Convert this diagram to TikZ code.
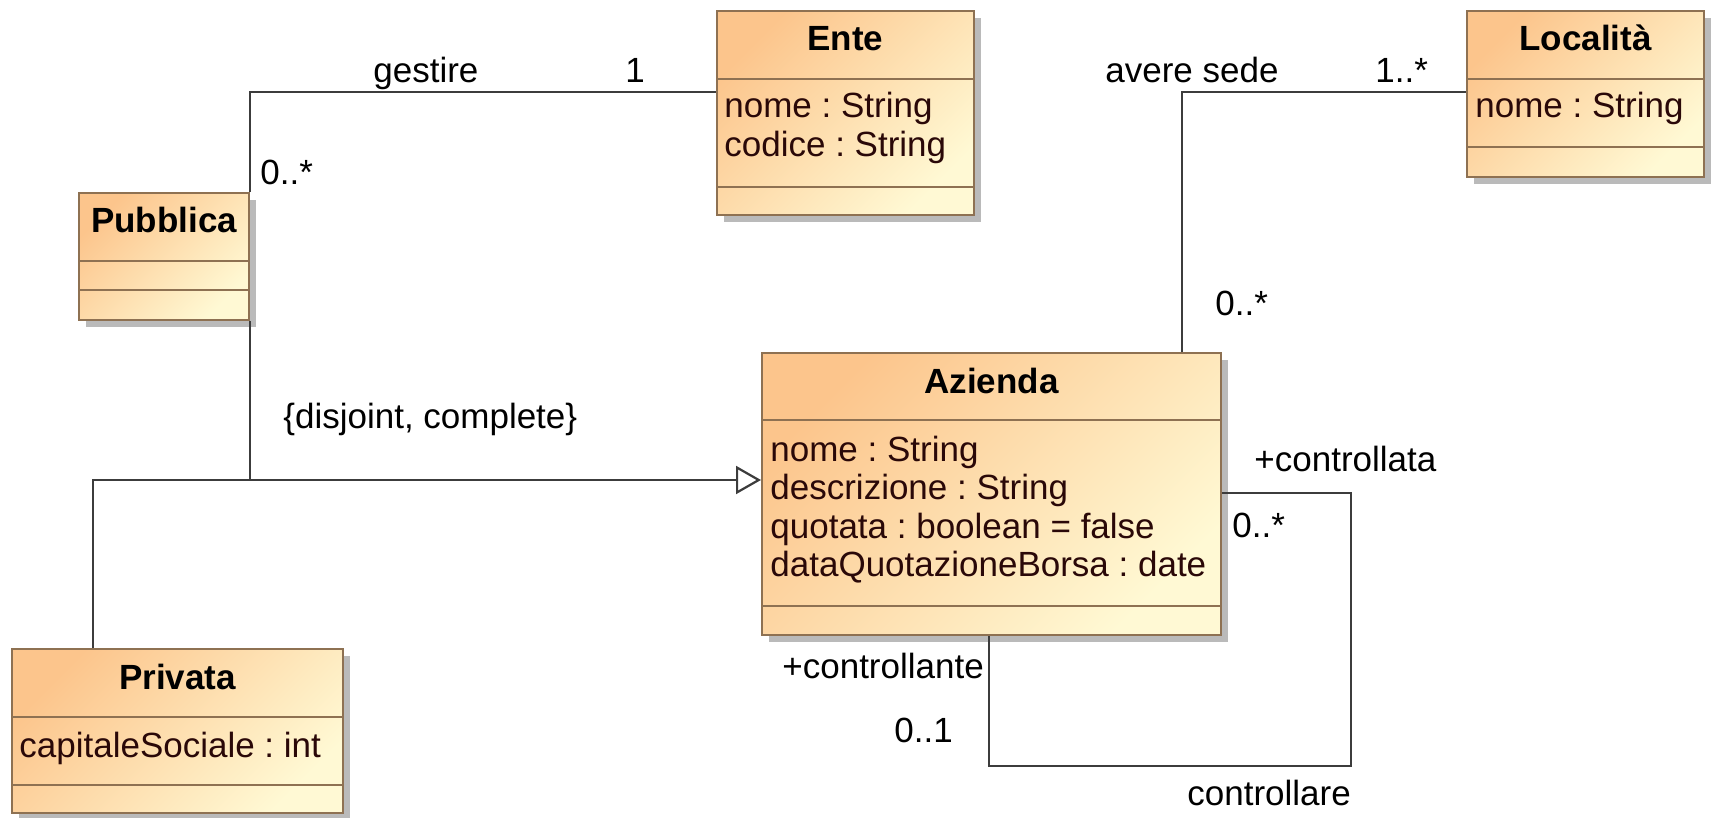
\documentclass[tikz,border=0pt]{standalone}
\usepackage{fontspec}
\setmainfont{Liberation Sans}
\usetikzlibrary{positioning,fit,shadows,arrows.meta}
\definecolor{umlpeach}{HTML}{FCC58C}
\definecolor{umlcream}{HTML}{FFF9D4}
\definecolor{umledge}{HTML}{8E7152}
\definecolor{umlline}{HTML}{3C3C3C}
\definecolor{umltext}{HTML}{2A0808}
\newcommand\umlfont{\fontsize{17.5}{21}\selectfont\frenchspacing}
\tikzset{
	classbox/.style={draw=umledge, line width=1pt, inner sep=0pt, top color=umlpeach, bottom color=umlcream, shading angle=45,
		drop shadow={shadow xshift=3.5pt, shadow yshift=-3.5pt, fill=black!27, opacity=1}},
	sepline/.style={draw=umledge, line width=1pt},
	classname/.style={font=\umlfont\bfseries, inner sep=0pt, anchor=base},
	attr/.style={font=\umlfont, text=umltext, inner sep=0pt, anchor=base west},
	lbl/.style={font=\umlfont, inner sep=0pt, anchor=base west},
	assoc/.style={draw=umlline, line width=1.1pt},
	general/.style={assoc, -{Triangle[open, length=12.5pt, width=14pt]}}
}
\begin{document}
\begin{tikzpicture}[x=0.5pt, y=-0.5pt]
				\useasboundingbox (0,0) rectangle (1713,818);
				\node[classbox, fit={(717,11) (974,215)}] (ente) {};
				\node[classbox, fit={(1467,11) (1704,177)}] (localita) {};
				\node[classbox, fit={(79,193) (249,320)}] (pubblica) {};
				\node[classbox, fit={(762,353) (1221,635)}] (azienda) {};
				\node[classbox, fit={(12,649) (343,813)}] (privata) {};
				\foreach \c/\ya/\yb in {ente/79/187, localita/79/147, pubblica/261/290, azienda/420/606, privata/717/785}
				{
					\draw[sepline] (\c.west |- 0,\ya) -- (\c.east |- 0,\ya);
					\draw[sepline] (\c.west |- 0,\yb) -- (\c.east |- 0,\yb);
				}
				\node[classname] (ente-name) at (ente.north |- 0,51) {Ente};
				\node[classname] (localita-name) at (localita.north |- 0,51) {Località};
				\node[classname] (pubblica-name) at (pubblica.north |- 0,233) {Pubblica};
				\node[classname] (azienda-name) at (azienda.north |- 0,393) {Azienda};
				\node[classname] (privata-name) at (privata.north |- 0,689) {Privata};
				\foreach \a [count=\i from 0] in {nome : String, codice : String}
				{
					\node[attr] (ente-\i) at (724,118+39*\i) {\a};
				}
				\node[attr] (localita-0) at (1475,118) {nome : String};
				\foreach \a [count=\i from 0] in {nome : String, descrizione : String, quotata : boolean = false, dataQuotazioneBorsa : date}
				{
					\node[attr] (azienda-\i) at (770,461+38.5*\i) {\a};
				}
				\node[attr] (privata-0) at (19,757) {capitaleSociale : int};
				\draw[assoc] (pubblica.north east) |- (ente.west |- 0,92);
				\node[lbl] (gestire) at (373,83) {gestire};
				\node[lbl] (gestire-ente) at (625,83) {1};
				\node[lbl] (gestire-pubblica) at (260,185) {0..*};
				\draw[assoc] (azienda.north -| 1182,0) |- (localita.west |- 0,92);
				\node[lbl] (sede) at (1105,83) {avere sede};
				\node[lbl] (sede-localita) at (1375,83) {1..*};
				\node[lbl] (sede-azienda) at (1215,315) {0..*};
				\coordinate (gen) at (pubblica.south east |- 0,480);
				\draw[assoc] (pubblica.south east) -- (gen);
				\draw[general] (privata.north -| 93,0) |- (azienda.west |- gen);
				\node[lbl] (vincolo) at (283,428) {\{disjoint, complete\}};
				\coordinate (loop) at (1351,766);
				\draw[assoc] (azienda.east |- 0,493) -| (loop) -| (azienda.south -| 989,0);
				\node[lbl] (controllata) at (1254,471) {+controllata};
				\node[lbl] (controllata-m) at (1232,537) {0..*};
				\node[lbl] (controllante) at (782,678) {+controllante};
				\node[lbl] (controllante-m) at (894,742) {0..1};
				\node[lbl] (controllare) at (1187,805) {controllare};
			\end{tikzpicture}
\end{document}
